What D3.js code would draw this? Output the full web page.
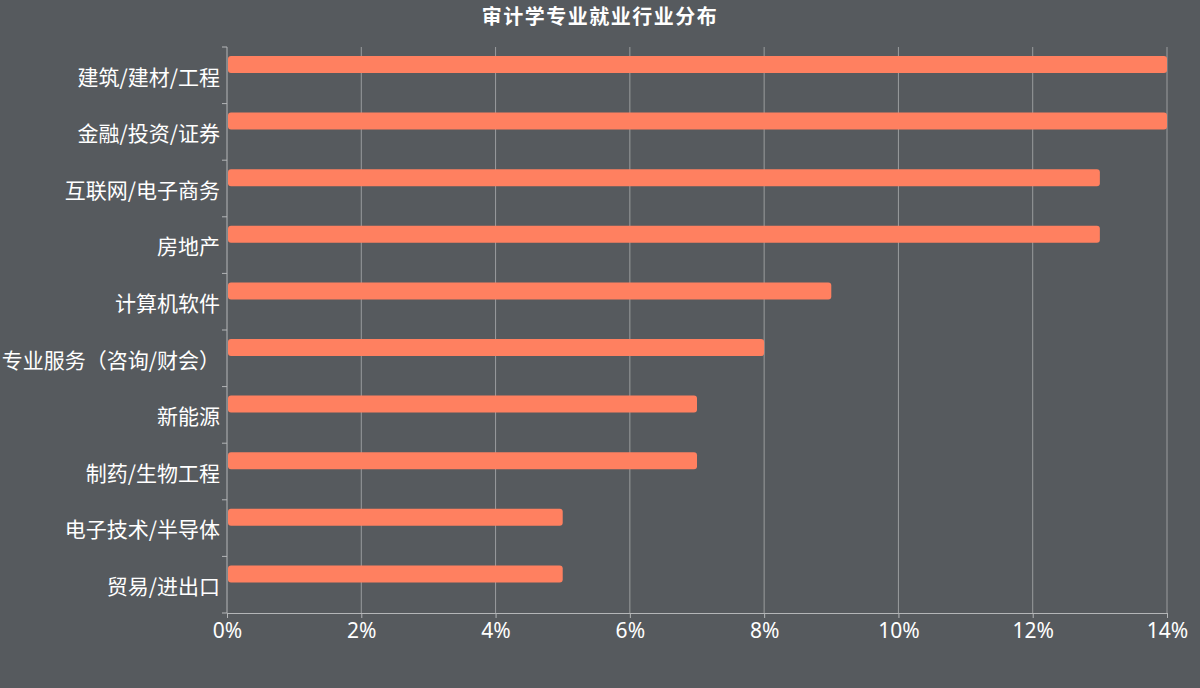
<!DOCTYPE html>
<html>
<head>
<meta charset="utf-8">
<script src="https://cdn.jsdelivr.net/npm/d3@7"></script>
<style>
  html, body { margin: 0; padding: 0; background: #565a5e; }
  svg { display: block; font-family: "Noto Sans CJK SC", "Noto Sans", sans-serif; }
</style>
</head>
<body>
<div id="chart"></div>
<script>
var categories = ['建筑/建材/工程', '金融/投资/证券', '互联网/电子商务', '房地产', '计算机软件',
  '专业服务（咨询/财会）', '新能源', '制药/生物工程', '电子技术/半导体', '贸易/进出口'];
var values = [14, 14, 13, 13, 9, 8, 7, 7, 5, 5];
var xTicks = [0, 2, 4, 6, 8, 10, 12, 14];
var title = '审计学专业就业行业分布';

var width = 1200,
  height = 688,
  padding = { top: 47, right: 33, bottom: 75, left: 227 };

var svg = d3.select('#chart')
  .append('svg')
  .attr('width', width)
  .attr('height', height);

svg.append('rect')
  .attr('width', width)
  .attr('height', height)
  .attr('fill', '#565a5e');

// title
svg.append('text')
  .attr('x', 600)
  .attr('y', 24)
  .attr('text-anchor', 'middle')
  .attr('font-size', '20px')
  .attr('font-weight', 'bold')
  .attr('letter-spacing', '1.5px')
  .attr('fill', '#ffffff')
  .text(title);

var xScale = d3.scaleLinear()
  .domain([0, 14])
  .range([padding.left, width - padding.right]);

var yScale = d3.scaleBand()
  .domain(categories)
  .range([padding.top, height - padding.bottom]);

// grid
svg.append('g')
  .selectAll('line')
  .data(xTicks.slice(1))
  .enter().append('line')
  .attr('x1', function (d) { return xScale(d); })
  .attr('x2', function (d) { return xScale(d); })
  .attr('y1', padding.top)
  .attr('y2', height - padding.bottom)
  .attr('stroke', '#9a9c9e')
  .attr('stroke-width', 1);

// x axis
var xAxis = d3.axisBottom(xScale)
  .tickValues(xTicks)
  .tickFormat(function (d) { return d + '%'; })
  .tickSize(5)
  .tickPadding(5);
var gx = svg.append('g')
  .attr('transform', 'translate(0,' + (height - padding.bottom) + ')')
  .call(xAxis);
gx.select('.domain').attr('stroke', '#b4b6b8');
gx.selectAll('.tick line').attr('stroke', '#b4b6b8');
gx.selectAll('text')
  .attr('fill', '#ffffff')
  .attr('font-size', '21px')
  .attr('font-family', '"Noto Sans", sans-serif');

// y axis ticks at band boundaries
var bounds = categories.map(function (c) { return yScale(c); }).concat([height - padding.bottom]);
svg.append('g')
  .selectAll('line')
  .data(bounds)
  .enter().append('line')
  .attr('x1', padding.left - 5)
  .attr('x2', padding.left)
  .attr('y1', function (d) { return d; })
  .attr('y2', function (d) { return d; })
  .attr('stroke', '#b4b6b8');
svg.append('line')
  .attr('x1', padding.left)
  .attr('x2', padding.left)
  .attr('y1', padding.top)
  .attr('y2', height - padding.bottom)
  .attr('stroke', '#b4b6b8');

svg.append('g')
  .selectAll('text')
  .data(categories)
  .enter().append('text')
  .attr('x', padding.left - 7)
  .attr('y', function (d) { return yScale(d) + yScale.bandwidth() / 2 + 2; })
  .attr('dy', '0.35em')
  .attr('text-anchor', 'end')
  .attr('font-size', '21px')
  .attr('fill', '#ffffff')
  .text(function (d) { return d; });

// bars
svg.append('g')
  .selectAll('rect')
  .data(values)
  .enter().append('rect')
  .attr('x', xScale(0) + 1)
  .attr('y', function (d, i) { return yScale(categories[i]) + 9; })
  .attr('width', function (d) { return xScale(d) - xScale(0) - 1; })
  .attr('height', 17)
  .attr('rx', 3)
  .attr('fill', '#ff8060');
</script>
</body>
</html>
